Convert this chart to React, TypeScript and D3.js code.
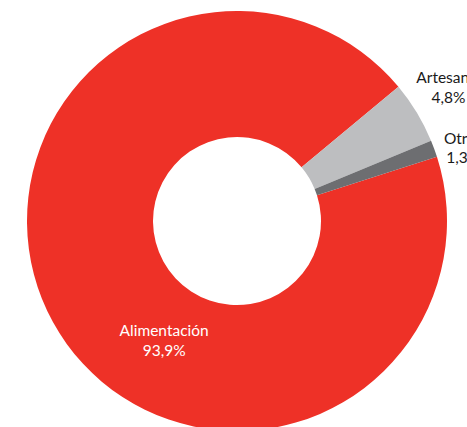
import React from "react";
import * as d3 from "d3";

const categories = ["Alimentación", "Artesanía", "Otros"];
const values = [93.9, 4.8, 1.3];
const valueLabels = ["93,9%", "4,8%", "1,3%"];

const colors = ["#EE3127", "#BDBEC0", "#6D6E71"];
const textColors = ["#FFFFFF", "#1a1a1a", "#1a1a1a"];
// label placement: radius from centre and pixel nudges (layout only)
const labelRadius = [147, 240, 240];
const labelNudge: [number, number][] = [
  [56, 46],
  [6, -12],
  [1, 7],
];

const W = 467;
const H = 427;
const cx = 237;
const cy = 221;
const R = 210;
const r = 84;
const startDeg = 72.2;

export default function App() {
  const data = categories.map((c, i) => ({ c, v: values[i], l: valueLabels[i], i }));
  const start = (startDeg * Math.PI) / 180;
  const pie = d3
    .pie<any>()
    .sort(null)
    .value((d) => d.v)
    .startAngle(start)
    .endAngle(start + 2 * Math.PI);
  const arcs = pie(data);
  const arc = d3.arc<any>().innerRadius(r).outerRadius(R);

  return (
    <svg
      width={W}
      height={H}
      style={{ position: "absolute", left: 0, top: 0, background: "#fff" }}
    >
      <g transform={`translate(${cx},${cy})`}>
        {arcs.map((a, i) => (
          <path key={i} d={arc(a) as string} fill={colors[i]} />
        ))}
        {arcs.map((a, i) => {
          const mid = (a.startAngle + a.endAngle) / 2;
          const x = Math.sin(mid) * labelRadius[i] + labelNudge[i][0];
          const y = -Math.cos(mid) * labelRadius[i] + labelNudge[i][1];
          return (
            <text
              key={"t" + i}
              x={x}
              y={y}
              textAnchor="middle"
              fontFamily="Lato, 'Open Sans', sans-serif"
              fontSize={15.5}
              fill={textColors[i]}
            >
              <tspan x={x} dy="-0.1em">{a.data.c}</tspan>
              <tspan x={x} dy="1.25em">{a.data.l}</tspan>
            </text>
          );
        })}
      </g>
    </svg>
  );
}
